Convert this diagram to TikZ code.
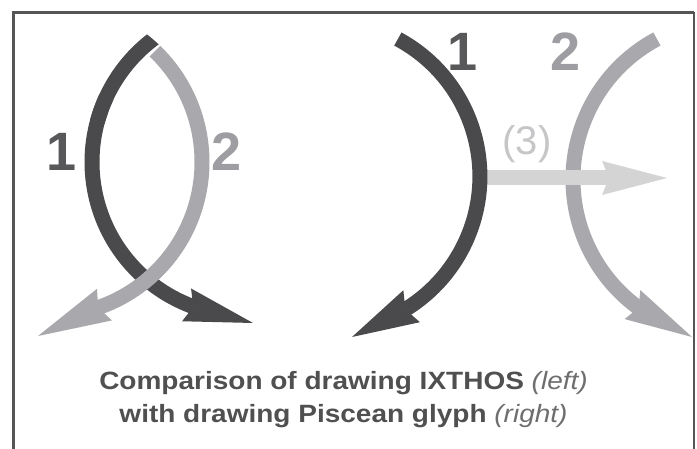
\documentclass[tikz,border=0pt]{standalone}
\usepackage{graphicx}
\usepackage{fontspec}
\setmainfont{Liberation Sans}
\usetikzlibrary{calc}
\definecolor{dk}{HTML}{4A4A4C}
\definecolor{lt}{HTML}{A9A9AD}
\definecolor{xl}{HTML}{D4D4D4}
\definecolor{fr}{HTML}{555555}
\definecolor{dkt}{HTML}{58585A}
\definecolor{ltt}{HTML}{9E9EA2}
\definecolor{thr}{HTML}{C6C6C8}
\definecolor{cap}{HTML}{505050}
\definecolor{capl}{HTML}{6E6E6E}
% arrow head: #1 end of band (notch), #2 tip, #3 half width, #4 inset, #5 colour
\newcommand\arrhead[5]{%
  \path ($(#1)!-#4!(#2)$) coordinate (hb);
  \fill[#5] (#2) -- ($(hb)!#3!90:(#2)$) -- (#1) -- ($(hb)!#3!-90:(#2)$) -- cycle;}
\begin{document}
\begin{tikzpicture}[x=1pt,y=-1pt,
  band/.style={line width=15pt},
  digit/.style={font=\fontsize{54}{54}\selectfont\bfseries, inner sep=0pt}]
\useasboundingbox (0,0) rectangle (697,449);
\fill[white] (0,0) rectangle (697,449);
% frame
\draw[fr, line width=3pt] (13,449) -- (13,13) -- (693.5,13);
\draw[fr, line width=2pt] (693.5,12) -- (693.5,449);
% ---------- left figure (IXTHOS)
\coordinate (cD) at (246,162);
\coordinate (cL) at (48,162);
\coordinate (dT) at (253,323);
\coordinate (lT) at (38,336);
\draw[dk, band] ($(cD)+(205:154)$) arc[start angle=205, end angle=110, radius=154] coordinate (dE);
\arrhead{dE}{dT}{17pt}{7pt}{dk}
\draw[lt, band] ($(cL)+(314:154)$) arc[start angle=314, end angle=431, radius=154] coordinate (lE);
\arrhead{lE}{lT}{17.5pt}{7pt}{lt}
\begin{scope}
  \clip (cL) circle[radius=161.5];
  \draw[dk, band] ($(cD)+(238:154)$) arc[start angle=238, end angle=195, radius=154];
\end{scope}
\node[digit, text=dkt] (n1a) at (62,152) {1};
\node[digit, text=ltt] (n2a) at (227,152) {2};
% ---------- right figure (Piscean glyph)
\coordinate (cR1) at (323.9,176.4);
\coordinate (cR2) at (732.1,179.2);
\coordinate (rdT) at (352,337);
\coordinate (rlT) at (692,337);
\coordinate (sS) at (480,178);
\coordinate (sE) at (609,178);
\coordinate (sT) at (667,178);
\draw[lt, band] ($(cR2)+(241.8:159.1)$) arc[start angle=241.8, end angle=126, radius=159.1] coordinate (rlE);
\arrhead{rlE}{rlT}{16.5pt}{7pt}{lt}
\draw[xl, line width=15pt] (sS) -- (sE);
\arrhead{sE}{sT}{17pt}{7pt}{xl}
\draw[dk, band] ($(cR1)+(-61.7:156)$) arc[start angle=-61.7, end angle=58.5, radius=156] coordinate (rdE);
\arrhead{rdE}{rdT}{18pt}{7pt}{dk}
\node[digit, text=dkt] (n1b) at (463,52) {1};
\node[digit, text=ltt] (n2b) at (566,52) {2};
\node[font=\fontsize{40}{40}\selectfont, text=thr, inner sep=0pt] (n3) at (527,144) {(3)};
% ---------- caption
\node[anchor=base, text=cap, inner sep=0pt] (cap1) at (343.5,389)
  {\scalebox{1.12}[1]{\fontsize{25}{30}\selectfont\bfseries Comparison of drawing IXTHOS {\mdseries\itshape\color{capl}(left)}}};
\node[anchor=base, text=cap, inner sep=0pt] (cap2) at (343.5,423)
  {\scalebox{1.12}[1]{\fontsize{25}{30}\selectfont\bfseries with drawing Piscean glyph {\mdseries\itshape\color{capl}(right)}}};
\end{tikzpicture}
\end{document}
